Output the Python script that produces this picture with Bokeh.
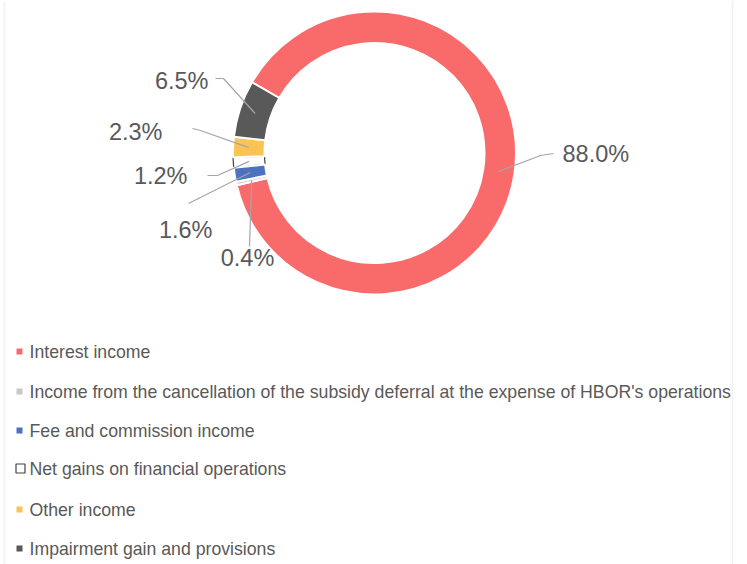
import math
from bokeh.plotting import figure
from bokeh.models import Range1d
from bokeh.core.properties import value
from bokeh.embed import file_html
from bokeh.resources import INLINE

# ---- data ----
categories = [
    "Interest income",
    "Income from the cancellation of the subsidy deferral at the expense of HBOR's operations",
    "Fee and commission income",
    "Net gains on financial operations",
    "Other income",
    "Impairment gain and provisions",
]
shares = [88.0, 0.4, 1.6, 1.2, 2.3, 6.5]
colors = ["#F96B6B", "#D6D6D6", "#4A72C0", "#FFFFFF", "#F9C453", "#595959"]
legend_colors = ["#F96B6B", "#C8C8C8", "#4A72C0", "#FFFFFF", "#F9C453", "#595959"]

# ---- layout (page pixel helpers) ----
W, H = 740, 564
def fx(X):
    return X
def fy(Y):
    return H - Y

CX, CY = fx(374), fy(152.5)
R_OUT, R_IN = 141.5, 110
FIRST_ANGLE = 300.0  # degrees clockwise from 12 o'clock
TXT = "#595959"
LEAD = "#A6A6A6"

p = figure(width=W, height=H, output_backend="svg", toolbar_location=None,
           x_range=Range1d(0, W), y_range=Range1d(0, H),
           x_axis_type=None, y_axis_type=None, min_border=0,
           background_fill_color="white", border_fill_color="white")
p.outline_line_color = None
p.grid.visible = False

# faint frame lines
p.segment(x0=[fx(732)], y0=[0], x1=[fx(732)], y1=[H], line_color="#F0F0F0", line_width=1.5)
p.segment(x0=[fx(4)], y0=[0], x1=[fx(4)], y1=[H], line_color="#F2F2F2", line_width=1.5)

# ---- donut ----
total = sum(shares)
starts, ends, mids = [], [], []
a = FIRST_ANGLE
for v in shares:
    span = v / total * 360.0
    starts.append(a)
    ends.append(a + span)
    mids.append(a + span / 2)
    a += span

def bk(cw_deg):
    return math.radians(90.0 - cw_deg)

order = [3, 0, 1, 2, 4, 5]  # outlined slice first, then the rest with white gaps
for i in order:
    outline = "#404040" if colors[i] == "#FFFFFF" else "white"
    lw = 1.2 if colors[i] == "#FFFFFF" else 2
    p.annular_wedge(x=[CX], y=[CY], inner_radius=R_IN, outer_radius=R_OUT,
                    start_angle=[bk(ends[i])], end_angle=[bk(starts[i])],
                    direction="anticlock", fill_color=colors[i],
                    line_color=outline, line_width=lw)

# ---- data labels with leader lines ----
label_layout = [
    ((562, 153), "left",   [(540, 155), (553, 153)]),
    ((247, 257), "center", [(249, 246)]),
    ((212, 229), "right",  [(188, 203)]),
    ((187, 175), "right",  [(217, 175), (207, 175)]),
    ((162, 131), "right",  [(200, 130), (192, 128)]),
    ((208, 80),  "right",  [(223, 78), (215, 78)]),
]
R_MID = (R_IN + R_OUT) / 2
for i, v in enumerate(shares):
    m = math.radians(mids[i])
    ax = CX + R_MID * math.sin(m)
    ay = CY + R_MID * math.cos(m)
    (lx, ly), align, path = label_layout[i]
    xs = [ax] + [fx(px) for px, _ in path]
    ys = [ay] + [fy(py) for _, py in path]
    p.line(xs, ys, line_color=LEAD, line_width=1.2)
    p.text(x=[fx(lx)], y=[fy(ly)], text=[f"{v:.1f}%"], text_align=align,
           text_baseline="middle", text_color=TXT,
           text_font=value("Liberation Sans"), text_font_size="23.5px")

# ---- legend (manual) ----
row_y = [351, 391, 430, 468, 509, 548]
for i, name in enumerate(categories):
    y = fy(row_y[i])
    if legend_colors[i] == "#FFFFFF":
        p.scatter(x=[fx(20)], y=[y], marker="square", size=9, fill_color="white",
                  line_color="#404040", line_width=1.2)
    else:
        p.scatter(x=[fx(19)], y=[y], marker="square", size=6, fill_color=legend_colors[i],
                  line_color=None)
    p.text(x=[fx(29)], y=[y], text=[name], text_align="left", text_baseline="middle",
           text_color=TXT, text_font=value("Liberation Sans"), text_font_size="17.7px")

open("out.html", "w").write(file_html(p, INLINE))
